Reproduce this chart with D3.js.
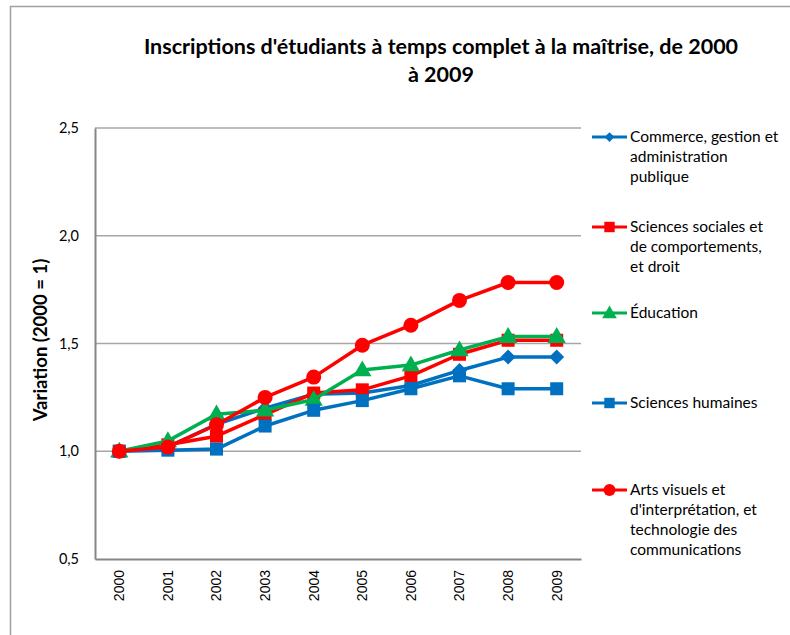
<!DOCTYPE html>
<html>
<head>
<meta charset="utf-8">
<script src="https://cdn.jsdelivr.net/npm/d3@7"></script>
<style>
  html, body { margin: 0; padding: 0; background: #fff; }
  svg { display: block; }
</style>
</head>
<body>
<svg id="chart" width="790" height="635"></svg>
<script>
// Years on the category axis
const years = ["2000", "2001", "2002", "2003", "2004", "2005", "2006", "2007", "2008", "2009"];

// Enrolment change relative to 2000, one array per field of study
const commerce = [1.00, 1.02, 1.125, 1.20, 1.265, 1.27, 1.305, 1.375, 1.437, 1.437];
const sciencesSociales = [1.00, 1.03, 1.07, 1.17, 1.27, 1.285, 1.35, 1.45, 1.515, 1.515];
const education = [1.00, 1.048, 1.172, 1.19, 1.24, 1.377, 1.40, 1.47, 1.532, 1.532];
const sciencesHumaines = [1.00, 1.005, 1.01, 1.117, 1.19, 1.235, 1.29, 1.35, 1.29, 1.29];
const arts = [1.00, 1.02, 1.123, 1.25, 1.344, 1.492, 1.585, 1.70, 1.783, 1.783];

const yTicks = [0.5, 1.0, 1.5, 2.0, 2.5];
const seriesNames = [
  ["Commerce, gestion et", "administration", "publique"],
  ["Sciences sociales et", "de comportements,", "et droit"],
  ["Éducation"],
  ["Sciences humaines"],
  ["Arts visuels et", "d'interprétation, et", "technologie des", "communications"]
];
const titleLines = ["Inscriptions d'étudiants à temps complet à la maîtrise, de 2000", "à 2009"];
const yLabel = "Variation (2000 = 1)";

const series = [
  { name: seriesNames[0], values: commerce, color: "#0070C0", marker: "diamond" },
  { name: seriesNames[1], values: sciencesSociales, color: "#FF0000", marker: "square" },
  { name: seriesNames[2], values: education, color: "#00B050", marker: "triangle" },
  { name: seriesNames[3], values: sciencesHumaines, color: "#0070C0", marker: "square" },
  { name: seriesNames[4], values: arts, color: "#FF0000", marker: "circle" }
];

const svg = d3.select("#chart");
const font = "Lato, 'Open Sans', sans-serif";

// Outer chart frame (runs off the right and bottom edges)
svg.append("rect")
  .attr("x", 10.5).attr("y", 6.5)
  .attr("width", 900).attr("height", 800)
  .attr("fill", "none").attr("stroke", "#A0A0A0").attr("stroke-width", 1.5);

const plot = { left: 95, right: 581, top: 128, bottom: 559 };

const x = d3.scaleBand().domain(years).range([plot.left, plot.right]).padding(0);
const y = d3.scaleLinear().domain([0.5, 2.5]).range([plot.bottom, plot.top]);
const cx = d => x(d) + x.bandwidth() / 2;

// Horizontal gridlines
svg.append("g")
  .selectAll("line")
  .data(yTicks.slice(1))
  .join("line")
  .attr("x1", plot.left).attr("x2", plot.right)
  .attr("y1", d => y(d)).attr("y2", d => y(d))
  .attr("stroke", "#A6A6A6").attr("stroke-width", 1.5);

// Y axis
const yAxis = svg.append("g")
  .attr("transform", `translate(${plot.left},0)`)
  .call(d3.axisLeft(y).tickValues(yTicks).tickSize(0).tickPadding(16)
    .tickFormat(d => d3.format(".1f")(d).replace(".", ",")));
yAxis.select(".domain").attr("stroke", "#868686").attr("stroke-width", 2);
yAxis.selectAll("text")
  .attr("font-family", font).attr("font-size", 14.5).attr("fill", "#000");

// X axis
const xAxis = svg.append("g")
  .attr("transform", `translate(0,${plot.bottom})`)
  .call(d3.axisBottom(x).tickSize(0).tickPadding(0));
xAxis.select(".domain").attr("stroke", "#868686").attr("stroke-width", 2);
xAxis.selectAll("text")
  .attr("font-family", "'Liberation Sans', Arial, sans-serif")
  .attr("font-size", 14).attr("fill", "#000")
  .attr("transform", "rotate(-90)")
  .attr("text-anchor", "end")
  .attr("x", -11).attr("y", 0).attr("dy", "0.35em");

// Marker drawing
function drawMarker(g, type, color, size) {
  const s = size || 1;
  if (type === "circle") {
    g.append("circle").attr("r", 7.5 * s).attr("fill", color);
  } else if (type === "square") {
    g.append("rect").attr("x", -6.5 * s).attr("y", -6.5 * s)
      .attr("width", 13 * s).attr("height", 13 * s).attr("fill", color);
  } else if (type === "triangle") {
    const sym = d3.symbol().type(d3.symbolTriangle).size(145 * s * s);
    g.append("path").attr("d", sym()).attr("fill", color).attr("transform", "translate(0,1)");
  } else if (type === "diamond") {
    const r = 7.5 * s;
    g.append("path").attr("d", `M0,${-r}L${r},0L0,${r}L${-r},0Z`).attr("fill", color);
  }
}

const line = d3.line().x((d, i) => cx(years[i])).y(d => y(d));

// Series lines and markers
series.forEach(s => {
  const g = svg.append("g");
  g.append("path")
    .datum(s.values)
    .attr("d", line)
    .attr("fill", "none")
    .attr("stroke", s.color)
    .attr("stroke-width", 3.5)
    .attr("stroke-linejoin", "round");
  s.values.forEach((v, i) => {
    const m = g.append("g").attr("transform", `translate(${cx(years[i])},${y(v)})`);
    drawMarker(m, s.marker, s.color, 1);
  });
});

// Title
svg.append("g").selectAll("text")
  .data(titleLines)
  .join("text")
  .attr("x", 441).attr("y", (d, i) => 54 + i * 28)
  .attr("text-anchor", "middle")
  .attr("font-family", font).attr("font-weight", "bold").attr("font-size", 21.5)
  .attr("fill", "#000")
  .text(d => d);

// Y axis title
svg.append("text")
  .attr("transform", `translate(47,340) rotate(-90)`)
  .attr("text-anchor", "middle")
  .attr("font-family", font).attr("font-weight", "bold").attr("font-size", 18.5)
  .attr("fill", "#000")
  .text(yLabel);

// Legend
const legendY = [137, 227, 313, 403, 490];
series.forEach((s, i) => {
  const g = svg.append("g").attr("transform", `translate(592,${legendY[i]})`);
  g.append("line").attr("x1", 0).attr("x2", 35).attr("y1", 0).attr("y2", 0)
    .attr("stroke", s.color).attr("stroke-width", 3);
  const m = g.append("g").attr("transform", "translate(17.5,0)");
  drawMarker(m, s.marker, s.color, s.marker === "diamond" ? 0.65 : 0.8);
  g.append("text")
    .attr("x", 38).attr("y", 0)
    .attr("font-family", font).attr("font-size", 15.5).attr("fill", "#000")
    .selectAll("tspan")
    .data(s.name)
    .join("tspan")
    .attr("x", 38)
    .attr("dy", (d, j) => j === 0 ? "0.35em" : 20)
    .text(d => d);
});
</script>
</body>
</html>
